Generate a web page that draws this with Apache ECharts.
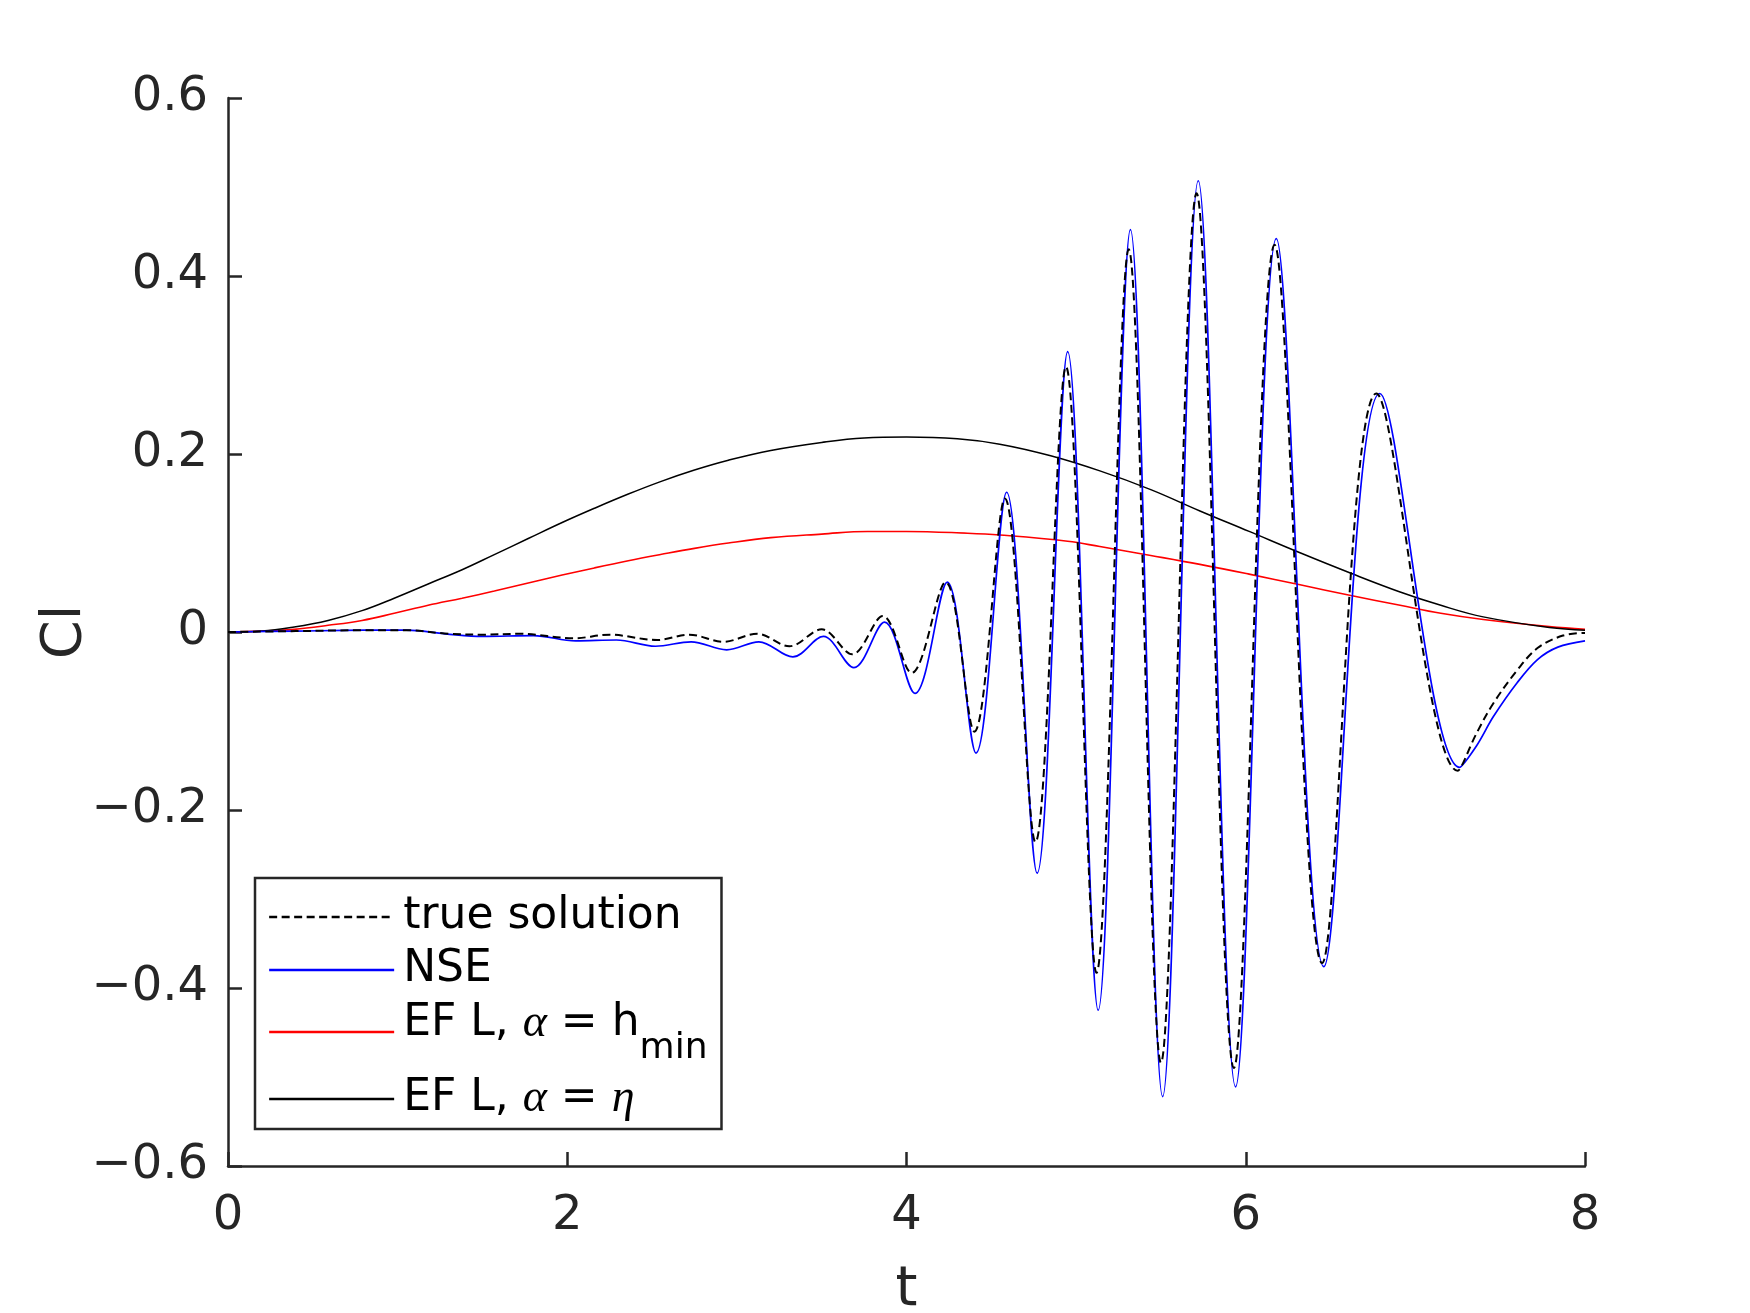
<!DOCTYPE html>
<html>
<head>
<meta charset="utf-8">
<title>Cl</title>
<style>
  html, body { margin: 0; padding: 0; background: #fff; }
  #main { width: 1750px; height: 1313px; }
</style>
</head>
<body>
<div id="main"></div>
<script src="https://cdn.jsdelivr.net/npm/echarts@6/dist/echarts.min.js"></script>
<script>
// time samples and values
var tTrue = [0, 0.4, 0.8, 1.05, 1.3, 1.5, 1.72, 2.04, 2.25, 2.53, 2.72, 2.92, 3.12, 3.31, 3.5, 3.68, 3.86, 4.03, 4.23, 4.4, 4.58, 4.76, 4.94, 5.12, 5.31, 5.5, 5.71, 5.93, 6.17, 6.45, 6.77, 7.25, 7.36, 7.46, 7.6, 7.72, 7.87, 8];
var vTrue = [0, 0.001, 0.002, 0.002, -0.002, -0.003, -0.002, -0.007, -0.003, -0.009, -0.003, -0.011, -0.002, -0.016, 0.003, -0.025, 0.018, -0.046, 0.056, -0.112, 0.150, -0.236, 0.298, -0.383, 0.430, -0.484, 0.493, -0.490, 0.435, -0.372, 0.268, -0.156, -0.114, -0.080, -0.043, -0.018, -0.004, -0.001];

var tNSE = [0, 0.4, 0.8, 1.05, 1.28, 1.5, 1.8, 2.05, 2.29, 2.52, 2.73, 2.94, 3.13, 3.33, 3.51, 3.69, 3.87, 4.05, 4.24, 4.41, 4.59, 4.77, 4.95, 5.13, 5.32, 5.51, 5.72, 5.94, 6.18, 6.46, 6.79, 7.26, 7.36, 7.46, 7.6, 7.72, 7.84, 8];
var vNSE = [0, 0.001, 0.002, 0.002, -0.002, -0.005, -0.004, -0.010, -0.009, -0.016, -0.011, -0.020, -0.011, -0.028, -0.005, -0.040, 0.011, -0.069, 0.056, -0.136, 0.157, -0.271, 0.315, -0.425, 0.452, -0.522, 0.507, -0.511, 0.442, -0.376, 0.268, -0.152, -0.128, -0.095, -0.057, -0.031, -0.017, -0.010];

var tEFh = [0, 0.2, 0.39, 0.59, 0.79, 0.98, 1.18, 1.38, 1.57, 1.77, 1.97, 2.16, 2.36, 2.55, 2.75, 2.95, 3.2, 3.5, 3.77, 4.0, 4.36, 4.55, 4.95, 5.14, 5.44, 5.73, 6.02, 6.32, 6.62, 6.91, 7.15, 7.4, 7.79, 8];
var vEFh = [0, 0.001, 0.003, 0.0075, 0.013, 0.021, 0.030, 0.038, 0.046, 0.055, 0.064, 0.072, 0.080, 0.087, 0.094, 0.100, 0.106, 0.110, 0.113, 0.113, 0.111, 0.109, 0.102, 0.096, 0.086, 0.076, 0.065, 0.053, 0.041, 0.030, 0.021, 0.014, 0.006, 0.003];

var tEFeta = [0, 0.2, 0.39, 0.59, 0.79, 0.98, 1.18, 1.38, 1.57, 1.77, 1.97, 2.16, 2.36, 2.55, 2.75, 2.95, 3.2, 3.5, 3.75, 4.0, 4.3, 4.55, 4.85, 5.14, 5.44, 5.73, 6.02, 6.32, 6.62, 6.91, 7.15, 7.4, 7.79, 8];
var vEFeta = [0, 0.001, 0.0056, 0.013, 0.024, 0.038, 0.054, 0.070, 0.087, 0.105, 0.123, 0.139, 0.155, 0.169, 0.182, 0.193, 0.204, 0.213, 0.218, 0.219, 0.217, 0.211, 0.198, 0.181, 0.160, 0.136, 0.113, 0.089, 0.066, 0.045, 0.030, 0.017, 0.005, 0.002];

var seriesNames = ['true solution', 'NSE', 'EF L, α = h_min', 'EF L, α = η'];
var seriesColors = ['#000000', '#0000ff', '#ff0000', '#000000'];
var xTicks = [0, 2, 4, 6, 8];
var yTicks = [-0.6, -0.4, -0.2, 0, 0.2, 0.4, 0.6];
var yTickLabels = ['\u22120.6', '\u22120.4', '\u22120.2', '0', '0.2', '0.4', '0.6'];

function pairs(ts, vs) {
  var out = [];
  for (var i = 0; i < ts.length; i++) out.push([ts[i], vs[i]]);
  return out;
}

var axisColor = '#262626';
var chart = echarts.init(document.getElementById('main'), null, { renderer: 'canvas' });

var option = {
  animation: false,
  backgroundColor: '#fff',
  // keep the plot box fixed, labels may sit outside it
  grid: { left: 228, right: 165, top: 98, bottom: 147, containLabel: false, outerBoundsMode: 'none' },
  xAxis: {
    type: 'value',
    min: xTicks[0], max: xTicks[xTicks.length - 1], interval: 2,
    name: 't',
    nameLocation: 'middle',
    nameGap: 96,
    nameTextStyle: { fontFamily: 'DejaVu Sans', fontSize: 56, color: axisColor },
    axisLine: { onZero: false, lineStyle: { color: axisColor, width: 2.5 } },
    axisTick: { inside: true, length: 14, lineStyle: { color: axisColor, width: 2.5 } },
    axisLabel: { fontFamily: 'DejaVu Sans', fontSize: 48, color: axisColor, margin: 27 },
    splitLine: { show: false }
  },
  yAxis: {
    type: 'value',
    min: yTicks[0], max: yTicks[yTicks.length - 1], interval: 0.2,
    name: 'Cl',
    nameLocation: 'middle',
    nameGap: 135,
    nameMoveOverlap: false,
    nameTextStyle: { fontFamily: 'DejaVu Sans', fontSize: 56, color: axisColor },
    axisLine: { show: true, onZero: false, lineStyle: { color: axisColor, width: 2.5 } },
    axisTick: { show: true, inside: true, length: 14, lineStyle: { color: axisColor, width: 2.5 } },
    axisLabel: {
      fontFamily: 'DejaVu Sans', fontSize: 48, color: axisColor, margin: 20,
      padding: [8, 0, 0, 0],
      formatter: function (v) {
        var i = Math.round((v - yTicks[0]) / 0.2);
        return yTickLabels[i];
      }
    },
    splitLine: { show: false }
  },
  legend: {
    orient: 'vertical',
    left: 255,
    top: 878,
    padding: [17, 14, 7, 13],
    itemGap: 9,
    itemWidth: 125,
    itemHeight: 14,
    backgroundColor: '#fff',
    borderColor: axisColor,
    borderWidth: 2.5,
    borderRadius: 0,
    itemStyle: { opacity: 0 },
    lineStyle: { width: 2.3 },
    data: seriesNames,
    formatter: function (name) {
      if (name === seriesNames[2]) return '{m|EF L, }{g|α}{m| = h}{s|min}';
      if (name === seriesNames[3]) return '{n|EF L, }{h|α}{n| = }{h|η}';
      return name;
    },
    textStyle: {
      fontFamily: 'DejaVu Sans', fontSize: 44, color: '#000', lineHeight: 44,
      padding: [0, 0, 0, 4],
      rich: {
        m: { fontFamily: 'DejaVu Sans', fontSize: 44, color: '#000', height: 44, lineHeight: 44, verticalAlign: 'top' },
        g: { fontFamily: 'Liberation Serif', fontStyle: 'italic', fontSize: 46, color: '#000', height: 44, lineHeight: 44, verticalAlign: 'top' },
        s: { fontFamily: 'DejaVu Sans', fontSize: 36, color: '#000', height: 26, lineHeight: 60, padding: [34, 0, 0, 0], verticalAlign: 'top' },
        n: { fontFamily: 'DejaVu Sans', fontSize: 44, color: '#000', lineHeight: 44 },
        h: { fontFamily: 'Liberation Serif', fontStyle: 'italic', fontSize: 46, color: '#000', lineHeight: 44 }
      }
    }
  },
  series: [
    {
      name: seriesNames[0], type: 'line', smooth: 0.35, symbol: 'none', z: 4,
      itemStyle: { color: seriesColors[0] },
      lineStyle: { color: seriesColors[0], width: 2, type: [8, 4.5] },
      data: pairs(tTrue, vTrue)
    },
    {
      name: seriesNames[1], type: 'line', smooth: 0.35, symbol: 'none', z: 3,
      itemStyle: { color: seriesColors[1] },
      lineStyle: { color: seriesColors[1], width: 1.7 },
      data: pairs(tNSE, vNSE)
    },
    {
      name: seriesNames[2], type: 'line', smooth: 0.4, symbol: 'none', z: 2,
      itemStyle: { color: seriesColors[2] },
      lineStyle: { color: seriesColors[2], width: 1.6 },
      data: pairs(tEFh, vEFh)
    },
    {
      name: seriesNames[3], type: 'line', smooth: 0.4, symbol: 'none', z: 2,
      itemStyle: { color: seriesColors[3] },
      lineStyle: { color: seriesColors[3], width: 1.5 },
      data: pairs(tEFeta, vEFeta)
    }
  ]
};

chart.setOption(option);
</script>
</body>
</html>
